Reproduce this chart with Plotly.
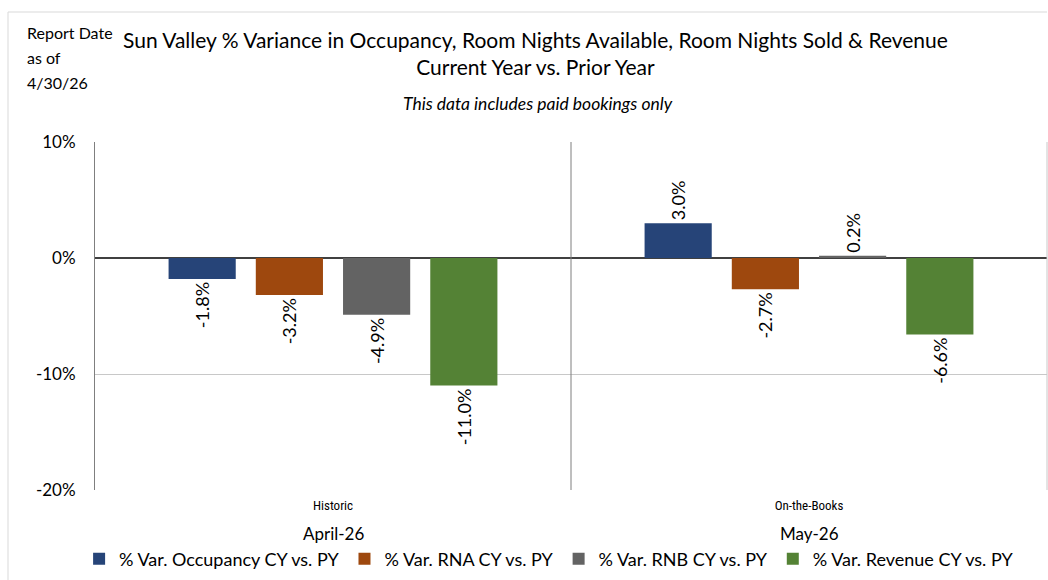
import plotly.graph_objects as go

periods = ["Historic", "On-the-Books"]
months = ["April-26", "May-26"]
series_names = ["% Var. Occupancy CY vs. PY", "% Var. RNA CY vs. PY",
                "% Var. RNB CY vs. PY", "% Var. Revenue CY vs. PY"]
occupancy = [-1.8, 3.0]
rna = [-3.2, -2.7]
rnb = [-4.9, 0.2]
revenue = [-11.0, -6.6]
colors = ["#264478", "#9E480E", "#636363", "#548235"]
y_ticks = [-20, -10, 0, 10]
report_lines = ["Report Date", "as of", "4/30/26"]

FONT = "Lato, Carlito, Calibri, sans-serif"

fig = go.Figure()
for name, vals, col in zip(series_names, [occupancy, rna, rnb, revenue], colors):
    fig.add_trace(go.Bar(
        x=periods, y=vals, name=name, marker_color=col,
        marker_line_width=0,
        text=[f"{v:.1f}%" for v in vals], textposition="outside",
        textangle=-90, cliponaxis=False,
        textfont=dict(size=18, color="#000000", family=FONT),
    ))

fig.update_layout(
    width=1048, height=580,
    margin=dict(l=95, r=1, t=142, b=90, autoexpand=False),
    paper_bgcolor="white", plot_bgcolor="white",
    barmode="group", bargap=0.267, bargroupgap=0.23,
    font=dict(family=FONT, color="#000000"),
    showlegend=True,
    legend=dict(orientation="h", x=0.477, xanchor="center", y=-0.145, yanchor="top",
                font=dict(size=18, family=FONT),
                traceorder="normal", itemwidth=30),
)
fig.update_yaxes(
    range=[-20, 10], tickvals=y_ticks, ticktext=[f"{v}%" for v in y_ticks],
    tickfont=dict(size=17, family=FONT), showgrid=True, gridcolor="#C8C8C8",
    gridwidth=1, zeroline=True, zerolinecolor="#404040", zerolinewidth=1.5,
    showline=True, linecolor="#7F7F7F", linewidth=1, ticks="", ticklabelstandoff=15,
    layer="below traces",
)
fig.update_xaxes(
    tickfont=dict(size=13, family="Liberation Sans Narrow, Roboto Condensed, " + FONT),
    showline=False, showgrid=False, ticks="", ticklabelstandoff=6,
)
# category divider
fig.add_shape(type="line", xref="x", yref="paper", x0=0.5, x1=0.5, y0=0, y1=1,
              line=dict(color="#7F7F7F", width=1))
# right border
fig.add_shape(type="line", xref="paper", yref="paper", x0=1, x1=1, y0=0, y1=1,
              line=dict(color="#C8C8C8", width=1))
# outer chart border
fig.add_shape(type="line", xref="paper", yref="paper", x0=(8 - 95) / 952, x1=1.0,
              y0=(490 - 12) / 348, y1=(490 - 12) / 348, line=dict(color="#D9D9D9", width=1))
fig.add_shape(type="line", xref="paper", yref="paper", x0=(8 - 95) / 952, x1=(8 - 95) / 952,
              y0=(490 - 12) / 348, y1=(490 - 590) / 348, line=dict(color="#D9D9D9", width=1))

# month labels
for p, m in zip(periods, months):
    fig.add_annotation(x=p, xref="x", y=(490 - 533) / 348, yref="paper", text=m,
                       showarrow=False, font=dict(size=17, family=FONT), yanchor="middle")

# titles
fig.add_annotation(x=(535 - 95) / 952, xref="paper", y=(490 - 53) / 348, yref="paper",
                   text="Sun Valley % Variance in Occupancy, Room Nights Available, Room Nights Sold & Revenue<br>Current Year vs. Prior Year",
                   showarrow=False, font=dict(size=21, family=FONT), yanchor="middle", align="center")
fig.add_annotation(x=(538 - 95) / 952, xref="paper", y=(490 - 103) / 348, yref="paper",
                   text="<i>This data includes paid bookings only</i>",
                   showarrow=False, font=dict(size=17.5, family=FONT), yanchor="middle")
for i, line in enumerate(report_lines):
    fig.add_annotation(x=(25 - 95) / 952, xref="paper", xanchor="left",
                       y=(490 - (32 + 25 * i)) / 348, yref="paper",
                       text=line, align="left",
                       showarrow=False, font=dict(size=16, family=FONT), yanchor="middle")

fig.write_html("out.html", config={"displayModeBar": False},
               post_script="document.body.style.margin='0px';")
